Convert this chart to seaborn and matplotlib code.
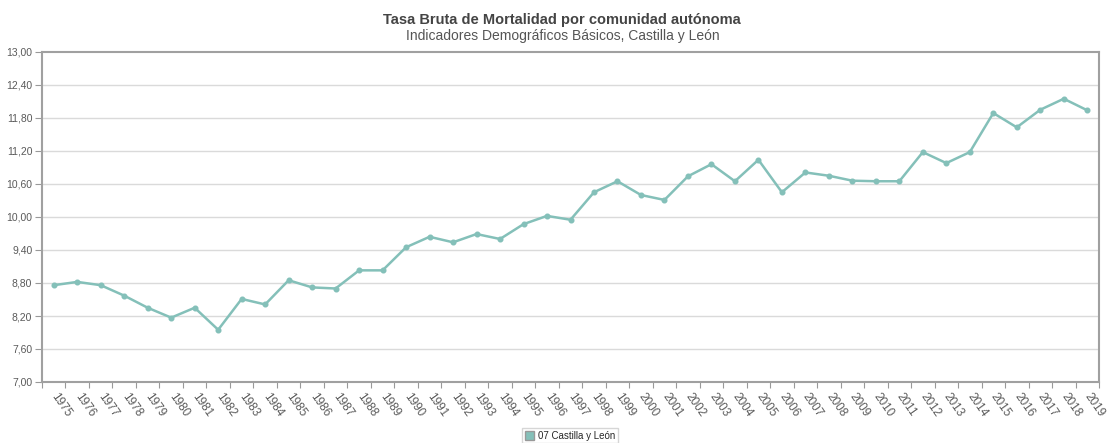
import numpy as np
import pandas as pd
import matplotlib
matplotlib.use('Agg')
import matplotlib.pyplot as plt
from matplotlib.patches import Patch
import seaborn as sns

# data
years = [str(y) for y in range(1975, 2020)]
rates = [8.76, 8.82, 8.76, 8.57, 8.35, 8.17, 8.35, 7.95, 8.51, 8.41,
         8.85, 8.72, 8.70, 9.03, 9.03, 9.45, 9.64, 9.54, 9.69, 9.60,
         9.87, 10.02, 9.95, 10.45, 10.65, 10.40, 10.31, 10.74, 10.96, 10.65,
         11.04, 10.45, 10.81, 10.75, 10.66, 10.65, 10.65, 11.18, 10.98, 11.18,
         11.89, 11.63, 11.95, 12.15, 11.94]
yticks = [7.0, 7.6, 8.2, 8.8, 9.4, 10.0, 10.6, 11.2, 11.8, 12.4, 13.0]
series_name = '07 Castilla y León'

df = pd.DataFrame({'year': years, 'rate': rates})

teal = '#84c0b9'
gray_txt = '#5a5a5a'

sns.set_style('white')
plt.rcParams['font.family'] = ['Liberation Sans Narrow', 'Liberation Sans', 'DejaVu Sans']

fig = plt.figure(figsize=(11.07, 4.43), dpi=100)
ax = fig.add_axes([42 / 1107, 61 / 443, 1057 / 1107, 330 / 443])

sns.pointplot(data=df, x='year', y='rate', color=teal, ax=ax,
              markersize=3, linewidth=1.8, marker='o', errorbar=None)

ax.set_xlim(-0.5, len(years) - 0.5)
ax.set_ylim(7.0, 13.0)
ax.set_yticks(yticks)
ax.set_yticklabels([f'{v:.2f}'.replace('.', ',') for v in yticks])
for v in yticks[1:-1]:
    ax.axhline(v, color='#dadada', linewidth=1, zorder=0)

# ticks sit on category boundaries, labels at category centres
ax.set_xticks(np.arange(-0.5, len(years)), minor=False)
ax.set_xticklabels([])
ax.set_xticks(range(len(years)), minor=True)
ax.set_xticklabels(years, minor=True, rotation=-55, ha='left', va='center',
                   rotation_mode='anchor', fontsize=8.5, color=gray_txt)
ax.tick_params(axis='x', which='minor', length=0, pad=9)
ax.tick_params(axis='x', which='major', length=4, color='#999999', direction='out')
ax.tick_params(axis='y', length=5, color='#999999', direction='out',
               labelsize=7.5, labelcolor=gray_txt, pad=2)
ax.tick_params(bottom=True, left=True)
for s in ax.spines.values():
    s.set_color('#a0a0a0')
    s.set_linewidth(1.5)

ax.set_xlabel('')
ax.set_ylabel('')

fig.text(0.508, 0.955, 'Tasa Bruta de Mortalidad por comunidad autónoma',
         ha='center', va='center', fontsize=10.5, fontweight='bold', color='#444444')
fig.text(0.508, 0.918, 'Indicadores Demográficos Básicos, Castilla y León',
         ha='center', va='center', fontsize=10, color='#555555')

fig.legend(handles=[Patch(facecolor=teal, edgecolor='#999999', label=series_name)],
           loc='lower center', bbox_to_anchor=(0.515, -0.012), fontsize=7,
           frameon=True, fancybox=False, edgecolor='#cccccc', handlelength=1.0,
           handleheight=1.0, handletextpad=0.4, borderpad=0.3)

fig.savefig('out.png', dpi=100)
